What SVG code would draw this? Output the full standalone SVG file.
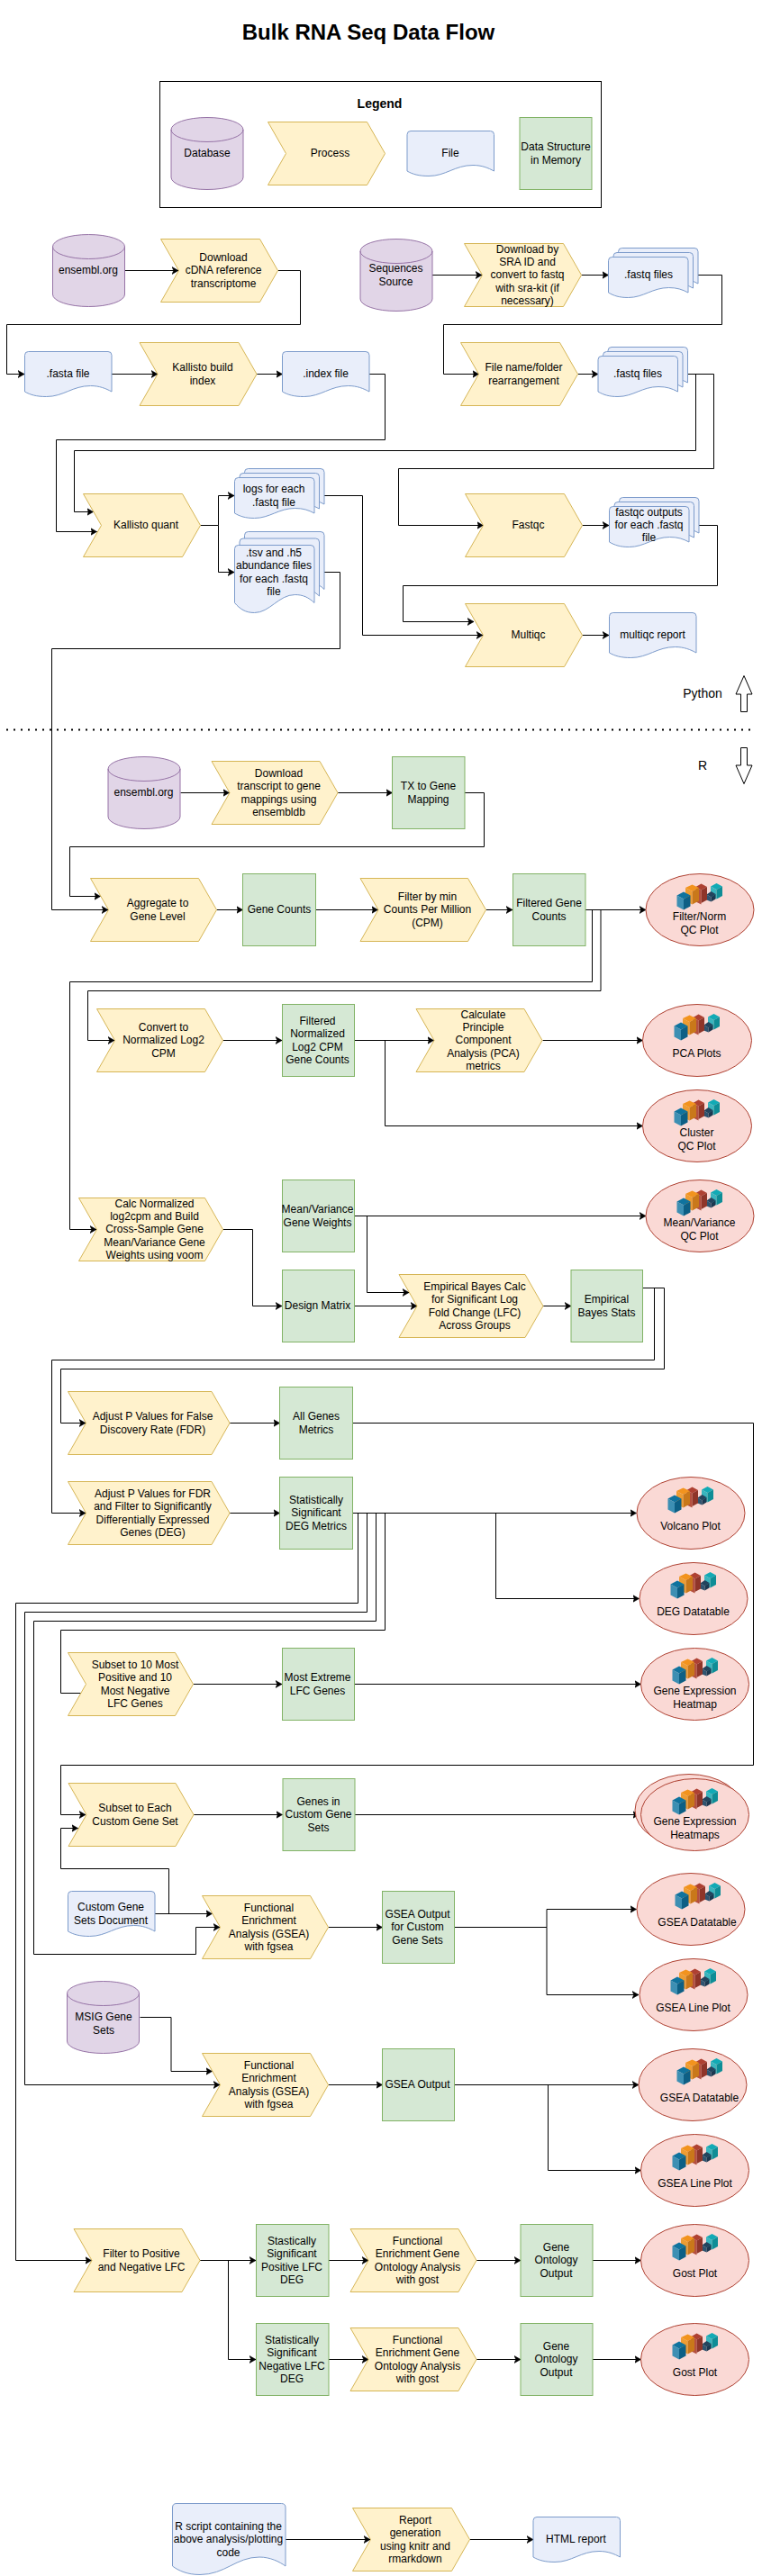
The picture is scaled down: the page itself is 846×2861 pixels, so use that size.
<svg xmlns="http://www.w3.org/2000/svg" xmlns:xlink="http://www.w3.org/1999/xlink" width="846" height="2861" viewBox="0 0 846 2861">
<style>
text{font-family:"Liberation Sans",Arial,sans-serif;font-size:12px;fill:#000;text-anchor:middle}
.title{font-size:24px;font-weight:bold}
.leg{font-size:14px;font-weight:bold}
.side{font-size:14px}
.s{fill:#fff2cc;stroke:#d6b656}
.g{fill:#d5e8d4;stroke:#82b366}
.f{fill:#e9eefa;stroke:#7c9bcb}
.d{fill:#e1d5e7;stroke:#9673a6}
.e{fill:#fad9d5;stroke:#ae4132}
.c{fill:none;stroke:#000;stroke-width:1;marker-end:url(#a)}
</style>
<defs>
<marker id="a" markerUnits="userSpaceOnUse" markerWidth="8" markerHeight="10" viewBox="0 0 8 10" refX="7" refY="5" orient="auto"><path d="M7 5L0 1L1.8 5L0 9Z" fill="#000" stroke="#000" stroke-width=".6"/></marker>
<g id="db"><path d="M0 13.5A40 13.5 0 0 1 80 13.5V66.5A40 13.5 0 0 1 0 66.5Z"/><path d="M0 13.5A40 13.5 0 0 0 80 13.5" fill="none"/></g>
<path id="doc" d="M4 0H92.5Q96.5 0 96.5 4V44.5C90 41 83 38 73 38C53 38 43 50 24 50C13 50 6 48 0 44.5V4Q0 0 4 0Z"/>
<path id="docs" d="M4 0H84.5Q88.5 0 88.5 4V39.5C82 36 76 34 67 34C49 34 39 45 22 45C12 45 6 43 0 39.5V4Q0 0 4 0Z"/>
<path id="doct" d="M4 0H84.5Q88.5 0 88.5 4V64C82 58 76 55 67 55C49 55 39 75 22 75C12 75 6 71 0 64V4Q0 0 4 0Z"/>
<g id="md"><use href="#docs" x="11" y="0"/><use href="#docs" x="5.5" y="5"/><use href="#docs" x="0" y="10"/></g>
<g id="mt"><use href="#doct" x="11" y="0"/><use href="#doct" x="5.5" y="7.5"/><use href="#doct" x="0" y="15"/></g>
<g id="icon">
<path fill="#12aab5" d="M37.5 4L44 .5L50.5 4L44 7.5Z"/><path fill="#38b5be" d="M37.5 4L44 7.5V18L37.5 14.5Z"/><path fill="#0e8d96" d="M44 7.5L50.5 4V14.5L44 18Z"/>
<path fill="#23445d" d="M33 13L38 9.5L43 12.5L38 16Z"/><path fill="#2e5470" d="M33 13L38 16V21L33 19Z"/><path fill="#1c3850" d="M38 16L43 12.5V18L38 21Z"/>
<path fill="#ae4132" d="M21 4.5L27 1L33.5 4.5L27 8Z"/><path fill="#b5503f" d="M21 4.5L27 8V24L21 21Z"/><path fill="#8f3529" d="M27 8L33.5 4.5V19L27 22.5Z"/>
<path fill="#f2931e" d="M9.5 5.5L17 2L24.5 5.5L17 9.5Z"/><path fill="#ee9c32" d="M9.5 5.5L17 9.5V24L9.5 20Z"/><path fill="#c9781a" d="M17 9.5L24.5 5.5V20L17 24Z"/>
<path fill="#10739e" d="M0 14L7.5 10L15 14L7.5 18Z"/><path fill="#3d8fb3" d="M0 14L7.5 18V30L0 26Z"/><path fill="#0d5f85" d="M7.5 18L15 14V26L7.5 30Z"/>
</g>
</defs>
<rect width="846" height="2861" fill="#fff"/>
<text class="title" x="409" y="44">Bulk RNA Seq Data Flow</text>
<g id="legend">
<rect x="177.5" y="90.5" width="490" height="140" fill="none" stroke="#000"/>
<text class="leg" x="421.5" y="120">Legend</text>
<use class="d" href="#db" x="190" y="130.5"/><text x="230" y="174">Database</text>
<polygon class="s" points="297.5,135.5 407.5,135.5 427.5,170.5 407.5,205.5 297.5,205.5 317.5,170.5"/><text x="366.5" y="174">Process</text>
<use class="f" href="#doc" x="452" y="145.5"/><text x="500" y="174">File</text>
<rect class="g" x="577" y="130.5" width="80" height="80"/><text x="617" y="167">Data Structure</text><text x="617" y="182">in Memory</text>
</g>
<g id="connectors">
<path class="c" d="M138.5 300.5H198"/>
<path class="c" d="M308.5 300.5H333.5V360.5H7.5V415.5H27"/>
<path class="c" d="M123.5 415.5H175"/>
<path class="c" d="M285 415.5H313.5"/>
<path class="c" d="M410 415.5H427.5V488.5H62.5V590.5H107.5"/>
<path class="c" d="M480 305.5H535"/>
<path class="c" d="M645.5 305.5H675.5"/>
<path class="c" d="M775 305.5H801.5V360.5H492.5V415.5H531.5"/>
<path class="c" d="M641.5 415.5H664"/>
<path class="c" d="M763.5 415.5H772.5V500.5H82.5V568.5H103.5"/>
<path class="c" d="M763.5 415.5H792.5V520.5H442.5V583.5H536.5"/>
<path class="c" d="M222.5 583.5H242.5V550.5H260"/>
<path class="c" d="M242.5 583.5V635.5H260"/>
<path class="c" d="M360 550.5H402.5V705.5H536"/>
<path class="c" d="M360 635.5H377.5V720.5H57.5V1010.5H120"/>
<path class="c" d="M646.5 583.5H676"/>
<path class="c" d="M776 583.5H796.5V650.5H447.5V690.5H526"/>
<path class="c" d="M646.5 705.5H676"/>
<path class="c" d="M200.5 880.5H254.5"/>
<path class="c" d="M375 880.5H435.5"/>
<path class="c" d="M516 880.5H537.5V940.5H77.5V995.5H111.5"/>
<path class="c" d="M240.5 1010.5H269.5"/>
<path class="c" d="M350.5 1010.5H419.5"/>
<path class="c" d="M539.5 1010.5H569"/>
<path class="c" d="M650 1010.5H717"/>
<path class="c" d="M650 1010.5H657.5V1090.5H77.5V1365.5H107"/>
<path class="c" d="M650 1010.5H667V1100.5H97.5V1155.5H127"/>
<path class="c" d="M247.5 1155.5H313"/>
<path class="c" d="M393.5 1155.5H481.5"/>
<path class="c" d="M427.5 1155.5V1250.5H713.5"/>
<path class="c" d="M602.5 1155.5H713.5"/>
<path class="c" d="M393.5 1350.5H717"/>
<path class="c" d="M407.5 1350.5V1435.5H454"/>
<path class="c" d="M247.5 1365.5H280.5V1450.5H313"/>
<path class="c" d="M393.5 1450.5H463"/>
<path class="c" d="M602.5 1450.5H634"/>
<path class="c" d="M713.5 1430.5H726.5V1510.5H57.5V1680.5H95"/>
<path class="c" d="M713.5 1430.5H737.5V1520.5H67.5V1580.5H95"/>
<path class="c" d="M255 1580.5H310.5"/>
<path class="c" d="M391.5 1580.5H836.5V1960.5H67.5V2015.5H95"/>
<path class="c" d="M255 1680.5H310.5"/>
<path class="c" d="M391.5 1680.5H706.5"/>
<path class="c" d="M550.5 1680.5V1775.5H709.5"/>
<path class="c" d="M397.5 1680.5V1780.5H17.5V2510.5H101.5"/>
<path class="c" d="M407.5 1680.5V1790.5H27.5V2315.5H244"/>
<path class="c" d="M417.5 1680.5V1800.5H37.5V2170.5H217.5V2140.5H244"/>
<path class="c" d="M427.5 1680.5V1810.5H67.5V1880.5H100"/>
<path class="c" d="M214.5 1870.5H313"/>
<path class="c" d="M393.5 1870.5H711.5"/>
<path class="c" d="M215 2015.5H313.5"/>
<path class="c" d="M394 2015.5H709.5"/>
<path class="c" d="M171.5 2125.5H235.5"/>
<path class="c" d="M187.5 2125.5V2075.5H67.5V2030.5H86.5"/>
<path class="c" d="M155.5 2240.5H190V2300.5H235.5"/>
<path class="c" d="M364.5 2140.5H424.5"/>
<path class="c" d="M504.5 2140.5H607V2120.5H706.5"/>
<path class="c" d="M607 2140.5V2215.5H709"/>
<path class="c" d="M364.5 2315.5H424.5"/>
<path class="c" d="M504.5 2315.5H709"/>
<path class="c" d="M608.5 2315.5V2410.5H711.5"/>
<path class="c" d="M222 2510.5H284"/>
<path class="c" d="M253.5 2510.5V2620.5H284"/>
<path class="c" d="M365 2510.5H409"/>
<path class="c" d="M365 2620.5H409"/>
<path class="c" d="M529 2510.5H578"/>
<path class="c" d="M529 2620.5H578"/>
<path class="c" d="M658 2510.5H711.5"/>
<path class="c" d="M658 2620.5H711.5"/>
<path class="c" d="M317 2820.5H411"/>
<path class="c" d="M521.5 2820.5H592"/>
</g>
<g id="n1"><use class="d" href="#db" x="58.5" y="260.5"/><text x="98" y="304">ensembl.org</text></g>
<g id="n2"><polygon class="s" points="178.5,265.5 288.5,265.5 308.5,300.5 288.5,335.5 178.5,335.5 198.5,300.5"/><text x="248"><tspan x="248" y="290">Download</tspan><tspan x="248" y="304">cDNA reference</tspan><tspan x="248" y="319">transcriptome</tspan></text></g>
<g id="n3"><use class="f" href="#doc" x="27.5" y="390.5"/><text x="75.5" y="419">.fasta file</text></g>
<g id="n4"><polygon class="s" points="155,380.5 265,380.5 285,415.5 265,450.5 155,450.5 175,415.5"/><text><tspan x="225" y="412">Kallisto build</tspan><tspan x="225" y="427">index</tspan></text></g>
<g id="n5"><use class="f" href="#doc" x="313.5" y="390.5"/><text x="361.5" y="419">.index file</text></g>
<g id="n6"><use class="d" href="#db" x="400" y="265.5"/><text><tspan x="439.5" y="302">Sequences</tspan><tspan x="439.5" y="317">Source</tspan></text></g>
<g id="n7"><polygon class="s" points="515.5,270.5 625.5,270.5 645.5,305.5 625.5,340.5 515.5,340.5 535.5,305.5"/><text><tspan x="585.5" y="281">Download by</tspan><tspan x="585.5" y="295">SRA ID and</tspan><tspan x="585.5" y="309">convert to fastq</tspan><tspan x="585.5" y="324">with sra-kit (if</tspan><tspan x="585.5" y="338">necessary)</tspan></text></g>
<g id="n8"><use class="f" href="#md" x="675.5" y="275.5"/><text x="720" y="309">.fastq files</text></g>
<g id="n9"><polygon class="s" points="511.5,380.5 621.5,380.5 641.5,415.5 621.5,450.5 511.5,450.5 531.5,415.5"/><text><tspan x="581.5" y="412">File name/folder</tspan><tspan x="581.5" y="427">rearrangement</tspan></text></g>
<g id="n10"><use class="f" href="#md" x="664" y="385.5"/><text x="708" y="419">.fastq files</text></g>
<g id="n11"><polygon class="s" points="92.5,548.5 202.5,548.5 222.5,583.5 202.5,618.5 92.5,618.5 112.5,583.5"/><text x="162" y="587">Kallisto quant</text></g>
<g id="n12"><use class="f" href="#md" x="260.5" y="520.5"/><text><tspan x="304" y="547">logs for each</tspan><tspan x="304" y="562">.fastq file</tspan></text></g>
<g id="n13"><use class="f" href="#mt" x="260.5" y="590.5"/><text><tspan x="304" y="618">.tsv and .h5</tspan><tspan x="304" y="632">abundance files</tspan><tspan x="304" y="647">for each .fastq</tspan><tspan x="304" y="661">file</tspan></text></g>
<g id="n14"><polygon class="s" points="516.5,548.5 626.5,548.5 646.5,583.5 626.5,618.5 516.5,618.5 536.5,583.5"/><text x="586.5" y="587">Fastqc</text></g>
<g id="n15"><use class="f" href="#md" x="676.5" y="552.5"/><text><tspan x="720.5" y="573">fastqc outputs</tspan><tspan x="720.5" y="587">for each .fastq</tspan><tspan x="720.5" y="601">file</tspan></text></g>
<g id="n16"><polygon class="s" points="516.5,670.5 626.5,670.5 646.5,705.5 626.5,740.5 516.5,740.5 536.5,705.5"/><text x="586.5" y="709">Multiqc</text></g>
<g id="n17"><use class="f" href="#doc" x="676.5" y="680.5"/><text x="724.5" y="709">multiqc report</text></g>
<g id="divider">
<text class="side" x="780" y="775">Python</text>
<polygon points="826,750.5 835,771 829.5,771 829.5,790.5 822.5,790.5 822.5,771 817,771" fill="#fff" stroke="#000"/>
<line x1="7" y1="810.5" x2="835" y2="810.5" stroke="#000" stroke-width="2" stroke-dasharray="2 6"/>
<text class="side" x="780" y="855">R</text>
<polygon points="826,870.5 835,850 829.5,850 829.5,830.5 822.5,830.5 822.5,850 817,850" fill="#fff" stroke="#000"/>
</g>
<g id="n18"><use class="d" href="#db" x="120" y="840.5"/><text x="159.5" y="884">ensembl.org</text></g>
<g id="n19"><polygon class="s" points="235,845.5 355,845.5 375,880.5 355,915.5 235,915.5 255,880.5"/><text><tspan x="309.5" y="863">Download</tspan><tspan x="309.5" y="877">transcript to gene</tspan><tspan x="309.5" y="892">mappings using</tspan><tspan x="309.5" y="906">ensembldb</tspan></text></g>
<g id="n20"><rect class="g" x="435.5" y="840.5" width="80.5" height="80"/><text><tspan x="475.5" y="877">TX to Gene</tspan><tspan x="475.5" y="892">Mapping</tspan></text></g>
<g id="n21"><polygon class="s" points="100.5,975.5 220.5,975.5 240.5,1010.5 220.5,1045.5 100.5,1045.5 120.5,1010.5"/><text><tspan x="175" y="1007">Aggregate to</tspan><tspan x="175" y="1022">Gene Level</tspan></text></g>
<g id="n22"><rect class="g" x="269.5" y="970.5" width="81" height="80"/><text x="310" y="1014">Gene Counts</text></g>
<g id="n23"><polygon class="s" points="400,975.5 519.5,975.5 539.5,1010.5 519.5,1045.5 400,1045.5 420,1010.5"/><text><tspan x="474.5" y="1000">Filter by min</tspan><tspan x="474.5" y="1014">Counts Per Million</tspan><tspan x="474.5" y="1029">(CPM)</tspan></text></g>
<g id="n24"><rect class="g" x="569.5" y="970.5" width="80.5" height="80"/><text><tspan x="609.5" y="1007">Filtered Gene</tspan><tspan x="609.5" y="1022">Counts</tspan></text></g>
<g id="n25"><ellipse class="e" cx="777" cy="1010.5" rx="60" ry="40"/><use href="#icon" x="751.5" y="980.5"/><text><tspan x="776.5" y="1022">Filter/Norm</tspan><tspan x="776.5" y="1037">QC Plot</tspan></text></g>
<g id="n26"><polygon class="s" points="107.5,1120.5 227.5,1120.5 247.5,1155.5 227.5,1190.5 107.5,1190.5 127.5,1155.5"/><text><tspan x="181.5" y="1145">Convert to</tspan><tspan x="181.5" y="1159">Normalized Log2</tspan><tspan x="181.5" y="1174">CPM</tspan></text></g>
<g id="n27"><rect class="g" x="313.5" y="1115.5" width="80" height="80"/><text><tspan x="352.5" y="1138">Filtered</tspan><tspan x="352.5" y="1152">Normalized</tspan><tspan x="352.5" y="1167">Log2 CPM</tspan><tspan x="352.5" y="1181">Gene Counts</tspan></text></g>
<g id="n28"><polygon class="s" points="462,1120.5 582,1120.5 602,1155.5 582,1190.5 462,1190.5 482,1155.5"/><text><tspan x="536.5" y="1131">Calculate</tspan><tspan x="536.5" y="1145">Principle</tspan><tspan x="536.5" y="1159">Component</tspan><tspan x="536.5" y="1174">Analysis (PCA)</tspan><tspan x="536.5" y="1188">metrics</tspan></text></g>
<g id="n29"><ellipse class="e" cx="774" cy="1155.5" rx="60.5" ry="40"/><use href="#icon" x="748.5" y="1125.5"/><text x="773.5" y="1174">PCA Plots</text></g>
<g id="n30"><ellipse class="e" cx="774" cy="1250.5" rx="60.5" ry="40"/><use href="#icon" x="748.5" y="1220.5"/><text><tspan x="773.5" y="1262">Cluster</tspan><tspan x="773.5" y="1277">QC Plot</tspan></text></g>
<g id="n31"><rect class="g" x="313.5" y="1310.5" width="80" height="80"/><text><tspan x="352.5" y="1347">Mean/Variance</tspan><tspan x="352.5" y="1362">Gene Weights</tspan></text></g>
<g id="n32"><ellipse class="e" cx="777" cy="1350.5" rx="60" ry="40"/><use href="#icon" x="751.5" y="1320.5"/><text><tspan x="776.5" y="1362">Mean/Variance</tspan><tspan x="776.5" y="1377">QC Plot</tspan></text></g>
<g id="n33"><polygon class="s" points="87.5,1330.5 227.5,1330.5 247.5,1365.5 227.5,1400.5 87.5,1400.5 107.5,1365.5"/><text><tspan x="171.5" y="1341">Calc Normalized</tspan><tspan x="171.5" y="1355">log2cpm and Build</tspan><tspan x="171.5" y="1369">Cross-Sample Gene</tspan><tspan x="171.5" y="1384">Mean/Variance Gene</tspan><tspan x="171.5" y="1398">Weights using voom</tspan></text></g>
<g id="n34"><rect class="g" x="313.5" y="1410.5" width="80" height="80"/><text x="352.5" y="1454">Design Matrix</text></g>
<g id="n35"><polygon class="s" points="443,1415.5 583,1415.5 603,1450.5 583,1485.5 443,1485.5 463,1450.5"/><text><tspan x="527" y="1433">Empirical Bayes Calc</tspan><tspan x="527" y="1447">for Significant Log</tspan><tspan x="527" y="1462">Fold Change (LFC)</tspan><tspan x="527" y="1476">Across Groups</tspan></text></g>
<g id="n36"><rect class="g" x="634" y="1410.5" width="79.5" height="80"/><text><tspan x="673.5" y="1447">Empirical</tspan><tspan x="673.5" y="1462">Bayes Stats</tspan></text></g>
<g id="n37"><polygon class="s" points="75.5,1545.5 235,1545.5 255,1580.5 235,1615.5 75.5,1615.5 95.5,1580.5"/><text><tspan x="169.5" y="1577">Adjust P Values for False</tspan><tspan x="169.5" y="1592">Discovery Rate (FDR)</tspan></text></g>
<g id="n38"><rect class="g" x="310.5" y="1540.5" width="81" height="80"/><text><tspan x="351" y="1577">All Genes</tspan><tspan x="351" y="1592">Metrics</tspan></text></g>
<g id="n39"><polygon class="s" points="75.5,1645.5 235,1645.5 255,1680.5 235,1715.5 75.5,1715.5 95.5,1680.5"/><text><tspan x="169.5" y="1663">Adjust P Values for FDR</tspan><tspan x="169.5" y="1677">and Filter to Significantly</tspan><tspan x="169.5" y="1692">Differentially Expressed</tspan><tspan x="169.5" y="1706">Genes (DEG)</tspan></text></g>
<g id="n40"><rect class="g" x="310.5" y="1640.5" width="81" height="80"/><text><tspan x="351" y="1670">Statistically</tspan><tspan x="351" y="1684">Significant</tspan><tspan x="351" y="1699">DEG Metrics</tspan></text></g>
<g id="n41"><ellipse class="e" cx="767" cy="1680.5" rx="60" ry="40"/><use href="#icon" x="741.5" y="1650.5"/><text x="766.5" y="1699">Volcano Plot</text></g>
<g id="n42"><ellipse class="e" cx="770" cy="1775.5" rx="60" ry="40"/><use href="#icon" x="744.5" y="1745.5"/><text x="769.5" y="1794">DEG Datatable</text></g>
<g id="n43"><polygon class="s" points="75.5,1835.5 194.5,1835.5 214.5,1870.5 194.5,1905.5 75.5,1905.5 95.5,1870.5"/><text><tspan x="150" y="1853">Subset to 10 Most</tspan><tspan x="150" y="1867">Positive and 10</tspan><tspan x="150" y="1882">Most Negative</tspan><tspan x="150" y="1896">LFC Genes</tspan></text></g>
<g id="n44"><rect class="g" x="313.5" y="1830.5" width="80" height="80"/><text><tspan x="352.5" y="1867">Most Extreme</tspan><tspan x="352.5" y="1882">LFC Genes</tspan></text></g>
<g id="n45"><ellipse class="e" cx="771.5" cy="1870.5" rx="60" ry="40"/><use href="#icon" x="746.5" y="1840.5"/><text><tspan x="771.5" y="1882">Gene Expression</tspan><tspan x="771.5" y="1897">Heatmap</tspan></text></g>
<g id="n46"><polygon class="s" points="76,1980.5 195,1980.5 215,2015.5 195,2050.5 76,2050.5 96,2015.5"/><text><tspan x="150" y="2012">Subset to Each</tspan><tspan x="150" y="2027">Custom Gene Set</tspan></text></g>
<g id="n47"><rect class="g" x="314" y="1975.5" width="80" height="80"/><text><tspan x="353.5" y="2005">Genes in</tspan><tspan x="353.5" y="2019">Custom Gene</tspan><tspan x="353.5" y="2034">Sets</tspan></text></g>
<g id="n48"><ellipse class="e" cx="765" cy="2010.5" rx="60" ry="40"/><ellipse class="e" cx="771.5" cy="2015.5" rx="60" ry="40"/><use href="#icon" x="746.5" y="1985.5"/><text><tspan x="771.5" y="2027">Gene Expression</tspan><tspan x="771.5" y="2042">Heatmaps</tspan></text></g>
<g id="n49"><use class="f" href="#doc" x="75.5" y="2100.5"/><text><tspan x="123" y="2122">Custom Gene</tspan><tspan x="123" y="2137">Sets Document</tspan></text></g>
<g id="n50"><polygon class="s" points="224.5,2105.5 344.5,2105.5 364.5,2140.5 344.5,2175.5 224.5,2175.5 244.5,2140.5"/><text><tspan x="298.5" y="2123">Functional</tspan><tspan x="298.5" y="2137">Enrichment</tspan><tspan x="298.5" y="2152">Analysis (GSEA)</tspan><tspan x="298.5" y="2166">with fgsea</tspan></text></g>
<g id="n51"><rect class="g" x="424.5" y="2100.5" width="80" height="80"/><text><tspan x="463.5" y="2130">GSEA Output</tspan><tspan x="463.5" y="2144">for Custom</tspan><tspan x="463.5" y="2159">Gene Sets</tspan></text></g>
<g id="n52"><ellipse class="e" cx="767" cy="2120.5" rx="60" ry="40"/><use href="#icon" x="749.5" y="2090.5"/><text x="774" y="2139">GSEA Datatable</text></g>
<g id="n53"><ellipse class="e" cx="770" cy="2215.5" rx="60" ry="40"/><use href="#icon" x="744.5" y="2185.5"/><text x="769.5" y="2234">GSEA Line Plot</text></g>
<g id="n54"><use class="d" href="#db" x="74.5" y="2200.5"/><text><tspan x="115" y="2244">MSIG Gene</tspan><tspan x="115" y="2259">Sets</tspan></text></g>
<g id="n55"><polygon class="s" points="224.5,2280.5 344.5,2280.5 364.5,2315.5 344.5,2350.5 224.5,2350.5 244.5,2315.5"/><text><tspan x="298.5" y="2298">Functional</tspan><tspan x="298.5" y="2312">Enrichment</tspan><tspan x="298.5" y="2327">Analysis (GSEA)</tspan><tspan x="298.5" y="2341">with fgsea</tspan></text></g>
<g id="n56"><rect class="g" x="424.5" y="2275.5" width="80" height="80"/><text x="463.5" y="2319">GSEA Output</text></g>
<g id="n57"><ellipse class="e" cx="769" cy="2315.5" rx="60" ry="40"/><use href="#icon" x="751.5" y="2285.5"/><text x="776.5" y="2334">GSEA Datatable</text></g>
<g id="n58"><ellipse class="e" cx="771.5" cy="2410.5" rx="60" ry="40"/><use href="#icon" x="746.5" y="2380.5"/><text x="771.5" y="2429">GSEA Line Plot</text></g>
<g id="n59"><polygon class="s" points="82,2475.5 202,2475.5 222,2510.5 202,2545.5 82,2545.5 102,2510.5"/><text><tspan x="157" y="2507">Filter to Positive</tspan><tspan x="157" y="2522">and Negative LFC</tspan></text></g>
<g id="n60"><rect class="g" x="284.5" y="2470.5" width="80.5" height="80"/><text><tspan x="324" y="2493">Stastically</tspan><tspan x="324" y="2507">Significant</tspan><tspan x="324" y="2522">Positive LFC</tspan><tspan x="324" y="2536">DEG</tspan></text></g>
<g id="n61"><rect class="g" x="284.5" y="2580.5" width="80.5" height="80"/><text><tspan x="324" y="2603">Statistically</tspan><tspan x="324" y="2617">Significant</tspan><tspan x="324" y="2632">Negative LFC</tspan><tspan x="324" y="2646">DEG</tspan></text></g>
<g id="n62"><polygon class="s" points="389,2475.5 509,2475.5 529,2510.5 509,2545.5 389,2545.5 409,2510.5"/><text><tspan x="463.5" y="2493">Functional</tspan><tspan x="463.5" y="2507">Enrichment Gene</tspan><tspan x="463.5" y="2522">Ontology Analysis</tspan><tspan x="463.5" y="2536">with gost</tspan></text></g>
<g id="n63"><polygon class="s" points="389,2585.5 509,2585.5 529,2620.5 509,2655.5 389,2655.5 409,2620.5"/><text><tspan x="463.5" y="2603">Functional</tspan><tspan x="463.5" y="2617">Enrichment Gene</tspan><tspan x="463.5" y="2632">Ontology Analysis</tspan><tspan x="463.5" y="2646">with gost</tspan></text></g>
<g id="n64"><rect class="g" x="578" y="2470.5" width="80" height="80"/><text><tspan x="617.5" y="2500">Gene</tspan><tspan x="617.5" y="2514">Ontology</tspan><tspan x="617.5" y="2529">Output</tspan></text></g>
<g id="n65"><rect class="g" x="578" y="2580.5" width="80" height="80"/><text><tspan x="617.5" y="2610">Gene</tspan><tspan x="617.5" y="2624">Ontology</tspan><tspan x="617.5" y="2639">Output</tspan></text></g>
<g id="n66"><ellipse class="e" cx="771.5" cy="2510.5" rx="60" ry="40"/><use href="#icon" x="746.5" y="2480.5"/><text x="771.5" y="2529">Gost Plot</text></g>
<g id="n67"><ellipse class="e" cx="771.5" cy="2620.5" rx="60" ry="40"/><use href="#icon" x="746.5" y="2590.5"/><text x="771.5" y="2639">Gost Plot</text></g>
<g id="n68"><path class="f" d="M196 2780.5H312.5Q317 2780.5 317 2785V2850C310 2845 300 2840 288 2840C262 2840 250 2859.5 222 2859.5C208 2859.5 198 2855 191.5 2850V2785Q191.5 2780.5 196 2780.5Z"/><text><tspan x="253.5" y="2810">R script containing the</tspan><tspan x="253.5" y="2824">above analysis/plotting</tspan><tspan x="253.5" y="2839">code</tspan></text></g>
<g id="n69"><polygon class="s" points="391.5,2785.5 501.5,2785.5 521.5,2820.5 501.5,2855.5 391.5,2855.5 411.5,2820.5"/><text><tspan x="461" y="2803">Report</tspan><tspan x="461" y="2817">generation</tspan><tspan x="461" y="2832">using knitr and</tspan><tspan x="461" y="2846">rmarkdown</tspan></text></g>
<g id="n70"><use class="f" href="#doc" x="592" y="2795.5"/><text x="639.5" y="2824">HTML report</text></g>
</svg>
